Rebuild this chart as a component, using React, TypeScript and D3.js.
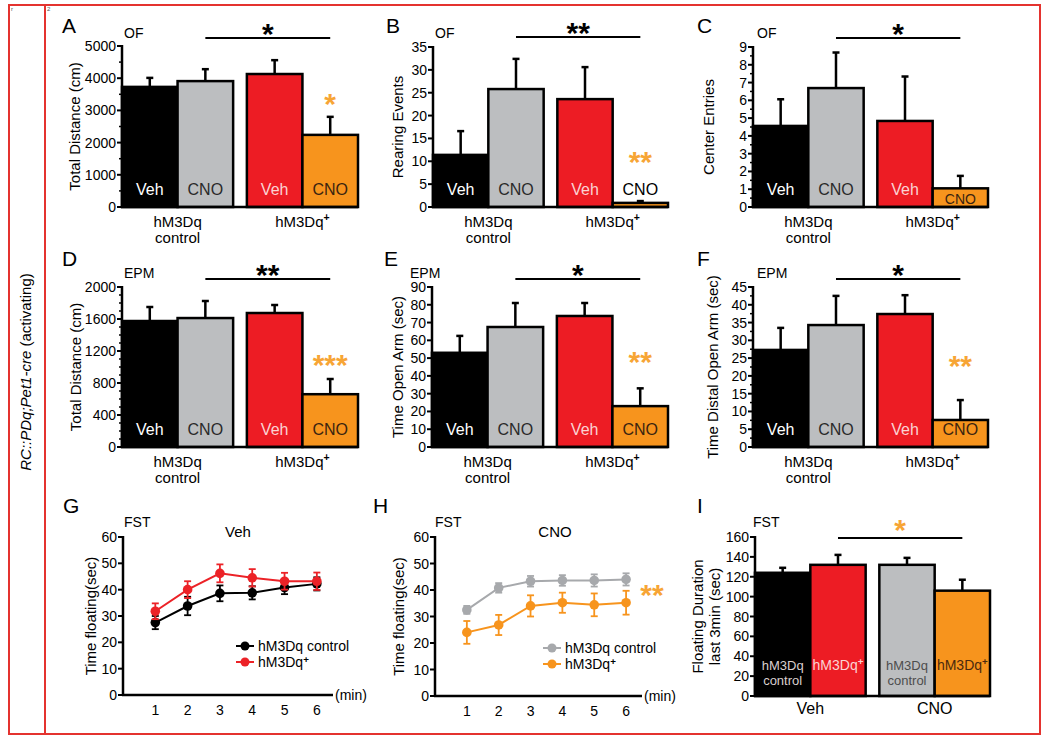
import React from "react";
import * as d3 from "d3";

const FONT = "'Liberation Sans', Arial, Helvetica, sans-serif";

// ---------- data ----------
const genotypes = ["hM3Dq control", "hM3Dq+"];
const treatments = ["Veh", "CNO"];
const barFills = ["#000000", "#bcbec0", "#ed1c24", "#f7941d"];
const fstBarFills = ["#000000", "#ed1c24", "#bcbec0", "#f7941d"];

const ofDistance = [3730, 3910, 4130, 2240];
const ofDistanceErr = [280, 370, 430, 560];
const ofRearing = [11.4, 25.8, 23.6, 0.9];
const ofRearingErr = [5.2, 6.6, 7.0, 0.4];
const ofCenter = [4.56, 6.69, 4.84, 1.05];
const ofCenterErr = [1.5, 2.0, 2.5, 0.7];
const epmDistance = [1575, 1612, 1675, 660];
const epmDistanceErr = [175, 213, 100, 190];
const epmOpenArm = [53, 67.5, 73.7, 23];
const epmOpenArmErr = [9.5, 13.5, 7.3, 10];
const epmDistal = [27.3, 34.3, 37.4, 7.6];
const epmDistalErr = [6.2, 8.2, 5.3, 5.6];

const fstMinutes = [1, 2, 3, 4, 5, 6];
const fstVehControl = [27.5, 33.8, 38.6, 38.8, 40.8, 42.2];
const fstVehControlErr = [2.5, 3.5, 3.0, 2.5, 2.5, 2.5];
const fstVehPlus = [31.8, 40.0, 46.2, 44.5, 43.2, 43.2];
const fstVehPlusErr = [3.0, 3.2, 3.4, 3.3, 3.2, 3.3];
const fstCnoControl = [32.5, 40.8, 43.3, 43.6, 43.6, 44.0];
const fstCnoControlErr = [1.5, 1.8, 2.0, 2.0, 2.3, 2.3];
const fstCnoPlus = [24.0, 26.8, 34.0, 35.2, 34.4, 35.2];
const fstCnoPlusErr = [4.3, 3.8, 4.0, 3.8, 4.3, 4.5];

const fstLast3 = [124, 132, 132, 106];
const fstLast3Err = [5, 10, 7, 11];

const seriesLegend = ["hM3Dq control", "hM3Dq+"];

// ---------- helpers ----------
function Label({ x, y, text, size, fill = "#000", anchor = "middle", weight = "normal", supRise = 0.38 }: any) {
  const plus = text.endsWith("+");
  const base = plus ? text.slice(0, -1) : text;
  return (
    <text x={x} y={y} fontSize={size} fill={fill} textAnchor={anchor} fontFamily={FONT} fontWeight={weight}>
      {base}
      {plus && (
        <tspan fontSize={size * 0.7} dy={-size * supRise} fontWeight="bold">
          +
        </tspan>
      )}
    </text>
  );
}

function Stars({ x, cy, text, color, size = 30 }: any) {
  return (
    <text x={x} y={cy + size * 0.55} fontSize={size} fontWeight="bold" fill={color} textAnchor="middle" fontFamily={FONT}>
      {text}
    </text>
  );
}

function YAxis({ y, ox, ticks, minor, yLabel, yLabelX, yTop, yBot }: any) {
  return (
    <g>
      {minor.map((t: number) => (
        <line key={"m" + t} x1={ox - 3} x2={ox} y1={y(t)} y2={y(t)} stroke="#000" strokeWidth={1.5} />
      ))}
      {ticks.map((t: number) => (
        <g key={t}>
          <line x1={ox - 5} x2={ox} y1={y(t)} y2={y(t)} stroke="#000" strokeWidth={2} />
          <text x={ox - 6} y={y(t) + 5} fontSize={14} textAnchor="end" fontFamily={FONT}>
            {t}
          </text>
        </g>
      ))}
      <line x1={ox} x2={ox} y1={yTop - 1} y2={yBot + 1} stroke="#000" strokeWidth={2.5} />
      {yLabel.map((l: string, i: number) => (
        <text
          key={l}
          transform={`translate(${yLabelX[i]},${(yTop + yBot) / 2}) rotate(-90)`}
          fontSize={15}
          textAnchor="middle"
          dominantBaseline="central"
          fontFamily={FONT}
        >
          {l}
        </text>
      ))}
    </g>
  );
}

function BarPanel(p: any) {
  const y = d3.scaleLinear().domain([0, p.max]).range([p.yBot, p.yTop]);
  const x0 = d3.scaleBand().domain(p.groups).range([p.ox, p.xEnd]).paddingInner(0.11).paddingOuter(0);
  const x1 = d3.scaleBand().domain(["0", "1"]).range([0, x0.bandwidth()]).padding(0);
  const ticks = d3.range(0, p.max + p.step / 2, p.step);
  const minor = d3.range(0, p.max + 1e-9, p.step / p.minorDiv).filter((t: number) => !ticks.some((m: number) => Math.abs(m - t) < 1e-9));
  const bars = p.values.map((v: number, i: number) => {
    const g = p.groups[Math.floor(i / 2)];
    const bx = (x0(g) as number) + (x1(String(i % 2)) as number);
    const bw = x1.bandwidth();
    return { v, e: p.errs[i], bx, bw, cx: bx + bw / 2, i };
  });
  const sx1 = bars[1].cx;
  const sx2 = bars[3].cx;
  return (
    <g>
      <text x={p.letter[1]} y={p.letter[2]} fontSize={21} fontFamily={FONT}>
        {p.letter[0]}
      </text>
      <text x={p.test[1]} y={p.test[2]} fontSize={14} fontFamily={FONT}>
        {p.test[0]}
      </text>
      {bars.map((b: any) => (
        <g key={b.i}>
          <line x1={b.cx} x2={b.cx} y1={y(b.v)} y2={y(b.v + b.e)} stroke="#000" strokeWidth={2.5} />
          <line x1={b.cx - 3.5} x2={b.cx + 3.5} y1={y(b.v + b.e)} y2={y(b.v + b.e)} stroke="#000" strokeWidth={2.5} />
          <rect x={b.bx} y={y(b.v)} width={b.bw} height={p.yBot - y(b.v)} fill={p.fills[b.i]} stroke="#000" strokeWidth={2.5} />
        </g>
      ))}
      {bars.map((b: any) =>
        p.barLabels[b.i].map((l: string, k: number) => (
          <Label
            key={b.i + "-" + k}
            x={b.cx}
            y={p.yBot - (p.barLabelOff[b.i] ?? 12) - (p.barLabels[b.i].length - 1 - k) * 15}
            text={l}
            size={p.barLabelSize[b.i]}
            fill={p.barLabelColors[b.i]}
          />
        ))
      )}
      <YAxis y={y} ox={p.ox} ticks={ticks} minor={minor} yLabel={p.yLabel} yLabelX={p.yLabelX} yTop={p.yTop} yBot={p.yBot} />
      <line x1={p.ox - 1} x2={p.xEnd} y1={p.yBot} y2={p.yBot} stroke="#000" strokeWidth={2.5} />
      {p.groups.map((g: string, gi: number) => {
        const cx = (x0(g) as number) + x0.bandwidth() / 2;
        return p.groupLines[gi].map((l: string, k: number) => (
          <Label key={g + k} x={cx} y={p.yBot + p.groupBase + k * 16} text={l} size={p.groupSize} />
        ));
      })}
      <line x1={sx1} x2={sx2} y1={p.sigY} y2={p.sigY} stroke="#000" strokeWidth={2} />
      <Stars x={(sx1 + sx2) / 2} cy={p.sigStarY} text={p.sigText} color={p.sigColor} />
      {p.postStar && <Stars x={bars[3].cx} cy={p.postStar[1]} text={p.postStar[0]} color="#f7a535" />}
    </g>
  );
}

function LinePanel(p: any) {
  const y = d3.scaleLinear().domain([0, 60]).range([p.yBot, p.yTop]);
  const x = d3.scaleLinear().domain([0, 6.5]).range([p.ox, p.xEnd]);
  const ticks = d3.range(0, 61, 10);
  const line = d3
    .line<number>()
    .x((_, i) => x(fstMinutes[i]))
    .y((d) => y(d));
  const lg = 16;
  return (
    <g>
      <text x={p.letter[1]} y={p.letter[2]} fontSize={21} fontFamily={FONT}>
        {p.letter[0]}
      </text>
      <text x={p.test[1]} y={p.test[2]} fontSize={14} fontFamily={FONT}>
        FST
      </text>
      <text x={p.title[1]} y={p.title[2]} fontSize={15} textAnchor="middle" fontFamily={FONT}>
        {p.title[0]}
      </text>
      <YAxis y={y} ox={p.ox} ticks={ticks} minor={[]} yLabel={["Time floating(sec)"]} yLabelX={[p.yLabelX]} yTop={p.yTop} yBot={p.yBot} />
      <line x1={p.ox - 1} x2={p.xEnd} y1={p.yBot} y2={p.yBot} stroke="#000" strokeWidth={2.5} />
      <text x={p.xEnd + 2} y={p.yBot + 5} fontSize={14} fontFamily={FONT}>
        (min)
      </text>
      {fstMinutes.map((m) => (
        <text key={m} x={x(m)} y={p.yBot + 20} fontSize={14} textAnchor="middle" fontFamily={FONT}>
          {m}
        </text>
      ))}
      {p.series.map((s: any, si: number) => (
        <g key={si}>
          <path d={line(s.values) as string} fill="none" stroke={s.color} strokeWidth={2} />
          {s.values.map((v: number, i: number) => {
            const cx = x(fstMinutes[i]);
            const e = s.errs[i];
            return (
              <g key={i}>
                <line x1={cx} x2={cx} y1={y(v - e)} y2={y(v + e)} stroke={s.color} strokeWidth={1.8} />
                <line x1={cx - 3.5} x2={cx + 3.5} y1={y(v - e)} y2={y(v - e)} stroke={s.color} strokeWidth={1.8} />
                <line x1={cx - 3.5} x2={cx + 3.5} y1={y(v + e)} y2={y(v + e)} stroke={s.color} strokeWidth={1.8} />
                <circle cx={cx} cy={y(v)} r={4.8} fill={s.color} />
              </g>
            );
          })}
          <line x1={p.legend[0]} x2={p.legend[0] + 18} y1={p.legend[1] + si * lg} y2={p.legend[1] + si * lg} stroke={s.color} strokeWidth={2} />
          <circle cx={p.legend[0] + 9} cy={p.legend[1] + si * lg} r={4.5} fill={s.color} />
          <Label x={p.legend[0] + 22} y={p.legend[1] + si * lg + 5} text={seriesLegend[si]} size={14} anchor="start" supRise={0.3} />
        </g>
      ))}
      {p.star && <Stars x={p.star[0]} cy={p.star[1]} text="**" color="#f7a535" />}
    </g>
  );
}

const ofLabels = [[treatments[0]], [treatments[1]], [treatments[0]], [treatments[1]]];
const stdLabelColors = ["#ffffff", "#2a2a2a", "#fbd3d3", "#3b2410"];
const groupLines = [["hM3Dq", "control"], ["hM3Dq+"]];

export default function App() {
  const common = {
    groups: genotypes,
    fills: barFills,
    barLabels: ofLabels,
    barLabelColors: stdLabelColors,
    barLabelSize: [16, 16, 16, 16],
    barLabelOff: [12, 12, 12, 12],
    groupLines,
    groupBase: 20,
    groupSize: 15,
    sigColor: "#000",
  };
  return (
    <svg width={1050} height={738} style={{ position: "absolute", left: 0, top: 0, background: "#fff" }} fontFamily={FONT}>
      <rect x={0} y={0} width={1050} height={738} fill="#fff" />
      <rect x={9} y={5} width={1031} height={729} fill="none" stroke="#e4332f" strokeWidth={2} />
      <line x1={45} x2={45} y1={5} y2={734} stroke="#e4332f" strokeWidth={2} />
      <text x={11} y={11} fontSize={6} fill="#555">r</text>
      <text x={47} y={11} fontSize={6} fill="#555">2</text>
      <text transform="translate(31,372) rotate(-90)" fontSize={15} textAnchor="middle" fontFamily={FONT}>
        <tspan fontStyle="italic">RC::PDq;Pet1-cre</tspan>
        <tspan>{"  (activating)"}</tspan>
      </text>

      <BarPanel {...common} letter={["A", 62, 33]} test={["OF", 124, 38]} ox={122} yTop={46} yBot={207} xEnd={358}
        max={5000} step={1000} minorDiv={2} values={ofDistance} errs={ofDistanceErr}
        yLabel={["Total Distance (cm)"]} yLabelX={[74]} sigY={38} sigStarY={27} sigText="*" postStar={["*", 97]} />
      <BarPanel {...common} letter={["B", 386, 33]} test={["OF", 435, 38]} ox={433} yTop={47} yBot={207} xEnd={668}
        max={35} step={5} minorDiv={1} values={ofRearing} errs={ofRearingErr}
        barLabelColors={["#ffffff", "#2a2a2a", "#fbd3d3", "#000000"]}
        yLabel={["Rearing Events"]} yLabelX={[397]} sigY={37} sigStarY={26} sigText="**" postStar={["**", 155]} />
      <BarPanel {...common} letter={["C", 697, 33]} test={["OF", 757, 38]} ox={753} yTop={47} yBot={207} xEnd={988}
        max={9} step={1} minorDiv={2} values={ofCenter} errs={ofCenterErr}
        barLabelSize={[16, 16, 16, 14]} barLabelOff={[12, 12, 12, 3]}
        yLabel={["Center Entries"]} yLabelX={[708]} sigY={38} sigStarY={27} sigText="*" />
      <BarPanel {...common} letter={["D", 62, 266]} test={["EPM", 124, 278]} ox={122} yTop={287} yBot={447} xEnd={358}
        max={2000} step={400} minorDiv={4} values={epmDistance} errs={epmDistanceErr}
        yLabel={["Total Distance (cm)"]} yLabelX={[75]} sigY={279} sigStarY={268} sigText="**" postStar={["***", 358]} />
      <BarPanel {...common} letter={["E", 384, 266]} test={["EPM", 410, 278]} ox={432} yTop={287} yBot={447} xEnd={668}
        max={90} step={10} minorDiv={1} values={epmOpenArm} errs={epmOpenArmErr}
        yLabel={["Time Open Arm (sec)"]} yLabelX={[397]} sigY={279} sigStarY={268} sigText="*" postStar={["**", 355]} />
      <BarPanel {...common} letter={["F", 697, 266]} test={["EPM", 757, 278]} ox={753} yTop={287} yBot={447} xEnd={988}
        max={45} step={5} minorDiv={2} values={epmDistal} errs={epmDistalErr}
        yLabel={["Time Distal Open Arm (sec)"]} yLabelX={[712]} sigY={279} sigStarY={268} sigText="*" postStar={["**", 359]} />

      <LinePanel letter={["G", 63, 513]} test={["FST", 124, 527]} title={[treatments[0], 238, 537]} ox={123} yTop={537} yBot={695} xEnd={333}
        yLabelX={90} legend={[236, 646]}
        series={[
          { values: fstVehControl, errs: fstVehControlErr, color: "#000000" },
          { values: fstVehPlus, errs: fstVehPlusErr, color: "#ec2227" },
        ]} />
      <LinePanel letter={["H", 373, 513]} test={["FST", 435, 527]} title={[treatments[1], 555, 537]} ox={435} yTop={537} yBot={696} xEnd={642}
        yLabelX={398} legend={[543, 648]} star={[652, 588]}
        series={[
          { values: fstCnoControl, errs: fstCnoControlErr, color: "#a7a9ac" },
          { values: fstCnoPlus, errs: fstCnoPlusErr, color: "#f7941d" },
        ]} />

      <BarPanel letter={["I", 697, 513]} test={["FST", 753, 527]} ox={755} yTop={537} yBot={696} xEnd={990}
        groups={treatments} fills={fstBarFills}
        barLabels={[["hM3Dq", "control"], ["hM3Dq+"], ["hM3Dq", "control"], ["hM3Dq+"]]}
        barLabelColors={["#d9cfcf", "#fbd3d3", "#4d4d4d", "#4a2a0f"]}
        barLabelSize={[13, 14, 13, 14]} barLabelOff={[11, 26, 11, 26]}
        groupLines={[[treatments[0]], [treatments[1]]]} groupBase={18} groupSize={16}
        max={160} step={20} minorDiv={1} values={fstLast3} errs={fstLast3Err}
        yLabel={["Floating Duration", "last 3min (sec)"]} yLabelX={[697, 714]}
        sigY={538} sigStarY={523} sigText="*" sigColor="#f7a535" />
    </svg>
  );
}
